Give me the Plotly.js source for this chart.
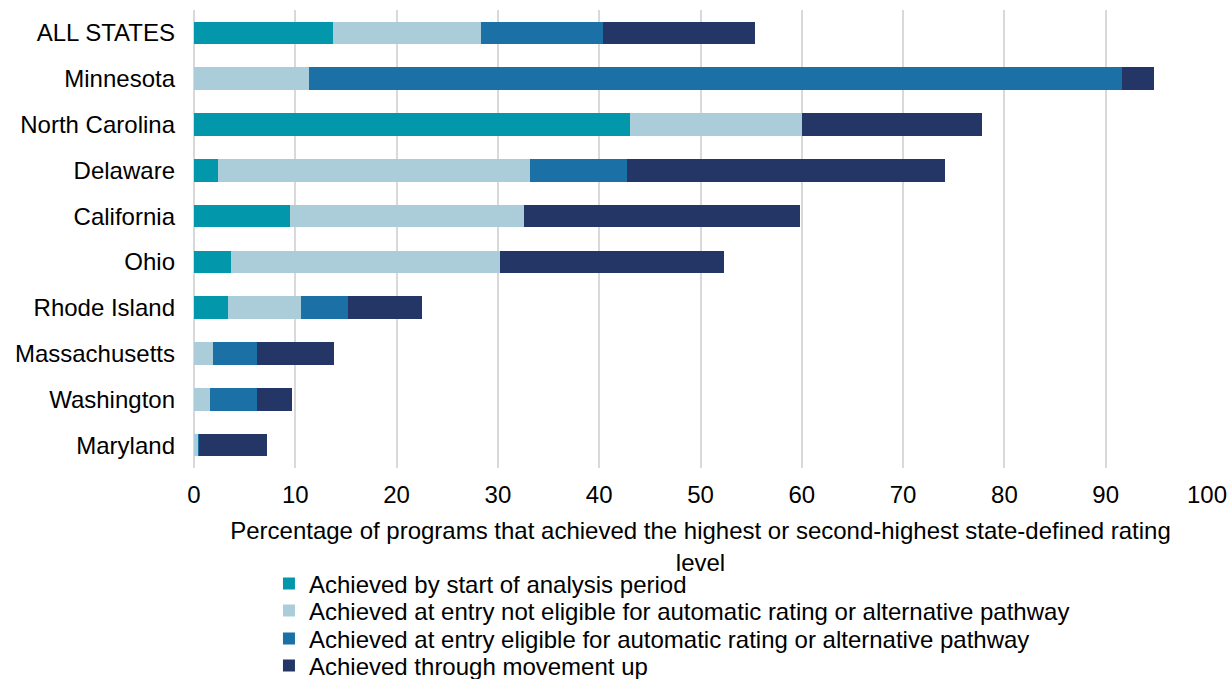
<!DOCTYPE html>
<html>
<head>
<meta charset="utf-8">
<script src="https://cdn.plot.ly/plotly-3.0.1.min.js"></script>
<style>html,body{margin:0;padding:0;background:#fff;}#chart{width:1230px;height:679px;}</style>
</head>
<body>
<div id="chart"></div>
<script>
const states = ["ALL STATES","Minnesota","North Carolina","Delaware","California","Ohio","Rhode Island","Massachusetts","Washington","Maryland"];
const startPeriod   = [13.7, 0,    43.0, 2.4,  9.5,  3.65, 3.4, 0,   0,   0];
const entryNotElig  = [14.6, 11.4, 17.0, 30.8, 23.1, 26.55,7.2, 1.9, 1.6, 0.36];
const entryElig     = [12.1, 80.2, 0,    9.5,  0,    0,    4.6, 4.35,4.65,0.14];
const movementUp    = [15.0, 3.2,  17.8, 31.4, 27.2, 22.1, 7.3, 7.55,3.45,6.7];
const seriesNames = [
  "Achieved by start of analysis period",
  "Achieved at entry not eligible for automatic rating or alternative pathway",
  "Achieved at entry eligible for automatic rating or alternative pathway",
  "Achieved through movement up"
];
const colors = ["#0397AB","#ABCDD9","#1B70A6","#233665"];
const xTicks = [0,10,20,30,40,50,60,70,80,90,100];

const font = "Arial, 'Liberation Sans', sans-serif";
const seriesData = [startPeriod, entryNotElig, entryElig, movementUp];
const legendIds = ["legend","legend2","legend3","legend4"];
const traces = seriesData.map((vals,i)=>({
  type:"bar", orientation:"h", y:states, x:vals, name:seriesNames[i],
  marker:{color:colors[i], line:{width:0}}, legend:legendIds[i],
  hoverinfo:"x+name"
}));

const legendY = [-0.2533,-0.3122,-0.3734,-0.4323];
const layout = {
  width:1230, height:679,
  margin:{l:194, r:23, t:10, b:211, autoexpand:false},
  paper_bgcolor:"#fff", plot_bgcolor:"#fff",
  barmode:"stack", bargap:0.51,
  font:{family:font, size:24, color:"#000"},
  xaxis:{
    range:[0,100], tickvals:xTicks, ticktext:xTicks.map(String),
    showgrid:true, gridcolor:"#D9D9D9", gridwidth:2,
    zeroline:true, zerolinecolor:"#D9D9D9", zerolinewidth:2,
    showline:false, ticks:"", ticklabelstandoff:10, automargin:false,
    tickfont:{family:font, size:24, color:"#000"},
    title:{text:"Percentage of programs that achieved the highest or second-highest state-defined rating<br>level", font:{family:font,size:24,color:"#000"}, standoff:15}
  },
  yaxis:{
    type:"category", categoryorder:"array", categoryarray:states, autorange:"reversed",
    showgrid:false, zeroline:false, showline:false, ticks:"", ticklabelstandoff:18, automargin:false,
    tickfont:{family:font, size:24, color:"#000"}
  },
  showlegend:true
};
legendIds.forEach((id,i)=>{
  layout[id] = {x:0.074, xanchor:"left", y:legendY[i], yanchor:"middle",
    orientation:"v", itemwidth:30, bgcolor:"rgba(0,0,0,0)",
    font:{family:font,size:24,color:"#000"}, itemclick:false, itemdoubleclick:false};
});

Plotly.newPlot("chart", traces, layout, {displayModeBar:false, staticPlot:true});
</script>
</body>
</html>
